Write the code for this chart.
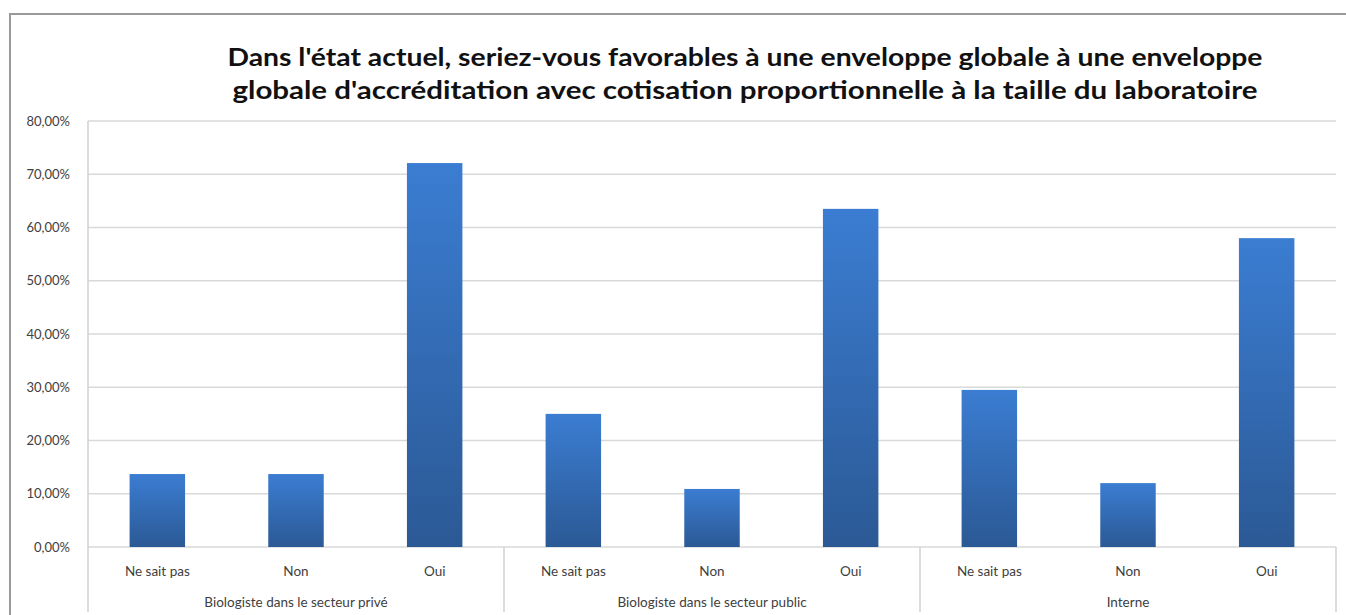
<!DOCTYPE html>
<html>
<head>
<meta charset="utf-8">
<script src="https://cdn.jsdelivr.net/npm/d3@7"></script>
<style>
  body { margin: 0; background: #fff; }
  svg { display: block; font-family: Lato, "Open Sans", sans-serif; }
</style>
</head>
<body>
<div class="chart"></div>
<script>
const groups = [
  "Biologiste dans le secteur privé",
  "Biologiste dans le secteur public",
  "Interne",
];
const answers = ["Ne sait pas", "Non", "Oui"];
const prive = [13.7, 13.7, 72.1];
const public_ = [25.0, 10.9, 63.5];
const interne = [29.5, 12.0, 58.0];
const yTicks = [0, 10, 20, 30, 40, 50, 60, 70, 80];
const titleLines = [
  "Dans l'état actuel, seriez-vous favorables à une enveloppe globale à une enveloppe",
  "globale d'accréditation avec cotisation proportionnelle à la taille du laboratoire",
];

const width = 1346;
const height = 615;
const margin = { top: 121, right: 10, bottom: 68, left: 88 };

const rows = [];
[prive, public_, interne].forEach((vals, g) => {
  vals.forEach((v, i) => {
    rows.push({ key: g + "-" + i, group: groups[g], answer: answers[i], value: v });
  });
});

const svg = d3
  .select(".chart")
  .append("svg")
  .attr("width", width)
  .attr("height", height);

// gradient for the bars
const grad = svg
  .append("defs")
  .append("linearGradient")
  .attr("id", "barGrad")
  .attr("x1", 0).attr("y1", 0).attr("x2", 0).attr("y2", 1);
grad.append("stop").attr("offset", "0%").attr("stop-color", "#3b7dd2");
grad.append("stop").attr("offset", "100%").attr("stop-color", "#2b5995");

// outer frame
svg
  .append("path")
  .attr("d", `M10,${height} L10,14 L${width},14`)
  .attr("fill", "none")
  .attr("stroke", "#9a9a9a")
  .attr("stroke-width", 2);

const x = d3
  .scaleBand()
  .domain(rows.map((d) => d.key))
  .range([margin.left, width - margin.right])
  .paddingInner(0.6)
  .paddingOuter(0.3);

const y = d3
  .scaleLinear()
  .domain([0, 80])
  .range([height - margin.bottom, margin.top]);

// gridlines
svg
  .append("g")
  .selectAll("line")
  .data(yTicks)
  .join("line")
  .attr("x1", margin.left)
  .attr("x2", width - margin.right)
  .attr("y1", (d) => y(d))
  .attr("y2", (d) => y(d))
  .attr("stroke", "#d9d9d9")
  .attr("stroke-width", 1.5);

// y axis labels
const yAxis = d3
  .axisLeft(y)
  .tickValues(yTicks)
  .tickSize(0)
  .tickPadding(18)
  .tickFormat((d) => d3.format(".2f")(d).replace(".", ",") + "%");
svg
  .append("g")
  .attr("transform", `translate(${margin.left},0)`)
  .call(yAxis)
  .call((g) => g.select(".domain").remove())
  .selectAll("text")
  .attr("font-family", "Lato, sans-serif")
  .attr("font-size", 13)
  .attr("fill", "#404040");

// bars
svg
  .append("g")
  .selectAll("rect")
  .data(rows)
  .join("rect")
  .attr("x", (d) => x(d.key))
  .attr("width", x.bandwidth())
  .attr("y", (d) => y(d.value))
  .attr("height", (d) => y(0) - y(d.value))
  .attr("fill", "url(#barGrad)");

// left axis line
svg
  .append("line")
  .attr("x1", margin.left).attr("x2", margin.left)
  .attr("y1", margin.top).attr("y2", height - 3)
  .attr("stroke", "#d0d0d0")
  .attr("stroke-width", 1.5);

// category labels
svg
  .append("g")
  .selectAll("text")
  .data(rows)
  .join("text")
  .attr("x", (d) => x(d.key) + x.bandwidth() / 2)
  .attr("y", y(0) + 29)
  .attr("text-anchor", "middle")
  .attr("font-size", 13.5)
  .attr("fill", "#404040")
  .text((d) => d.answer);

// group separators and labels
const edges = groups.map((g, i) => margin.left + i * ((width - margin.right - margin.left) / groups.length));
edges.push(width - margin.right);

svg
  .append("g")
  .selectAll("line")
  .data(edges.slice(1))
  .join("line")
  .attr("x1", (d) => d).attr("x2", (d) => d)
  .attr("y1", y(0)).attr("y2", height - 3)
  .attr("stroke", "#d0d0d0")
  .attr("stroke-width", 1.5);

svg
  .append("g")
  .selectAll("text")
  .data(groups)
  .join("text")
  .attr("x", (d, i) => (edges[i] + edges[i + 1]) / 2)
  .attr("y", y(0) + 60)
  .attr("text-anchor", "middle")
  .attr("font-size", 13.5)
  .attr("fill", "#404040")
  .text((d) => d);

// title
svg
  .append("g")
  .selectAll("text")
  .data(titleLines)
  .join("text")
  .attr("x", 745)
  .attr("y", (d, i) => 66 + i * 33)
  .attr("text-anchor", "middle")
  .attr("font-size", 25)
  .attr("font-weight", "bold")
  .attr("fill", "#111")
  .attr("textLength", (d, i) => (i === 0 ? 1035 : 1025))
  .attr("lengthAdjust", "spacingAndGlyphs")
  .text((d) => d);
</script>
</body>
</html>
